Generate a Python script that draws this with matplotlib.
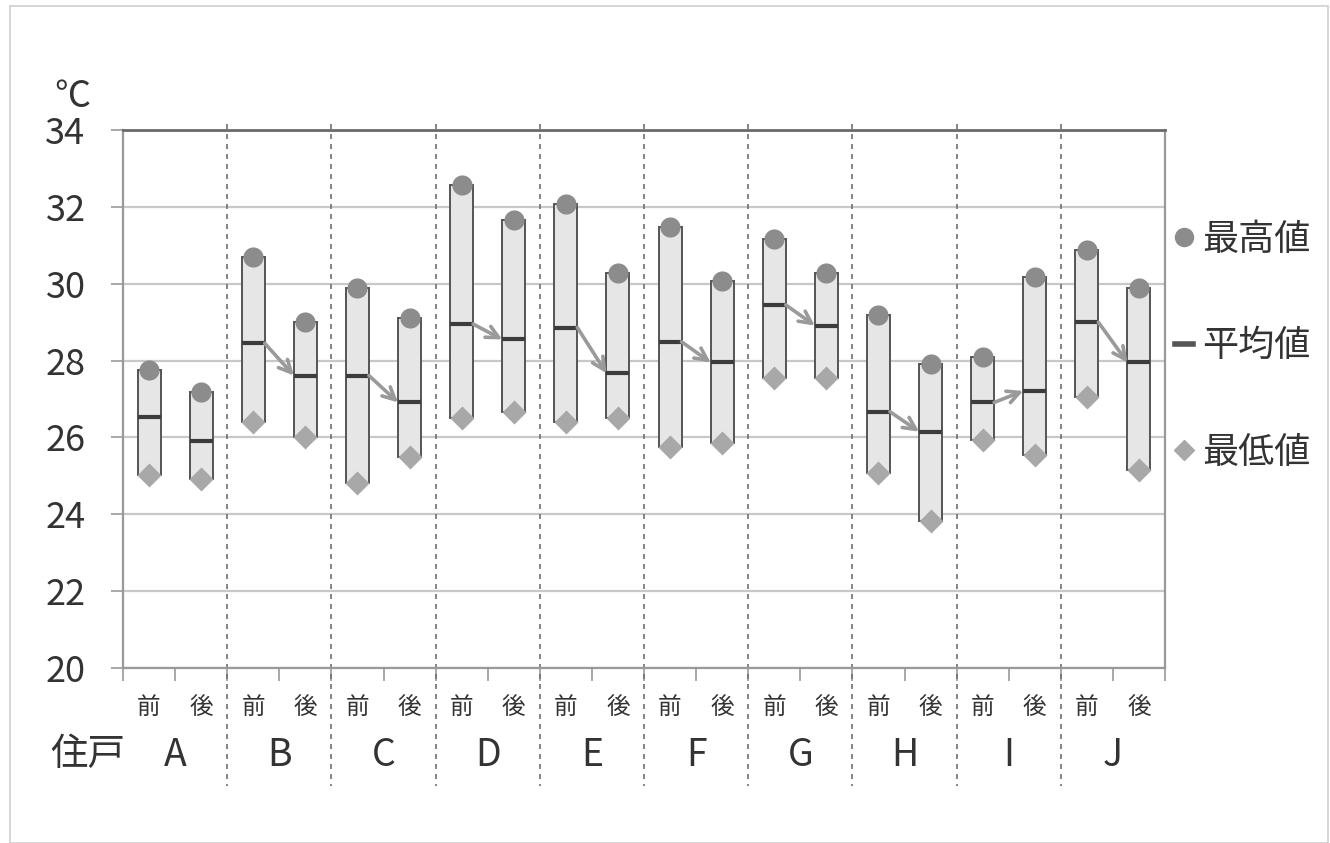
import matplotlib
matplotlib.use("Agg")
import matplotlib.pyplot as plt
from matplotlib.lines import Line2D
from matplotlib.patches import Rectangle

plt.rcParams['font.family'] = ['Noto Sans CJK JP', 'DejaVu Sans']

# Households and before / after labels
households = ['A', 'B', 'C', 'D', 'E', 'F', 'G', 'H', 'I', 'J']
phases = ['前', '後']

# Values per bar (前, 後 for each household in order)
t_max = [27.76, 27.19, 30.69, 29.01, 29.90, 29.10, 32.57, 31.66, 32.07, 30.27,
         31.48, 30.08, 31.16, 30.27, 29.19, 27.91, 28.10, 30.18, 30.88, 29.88]
t_mean = [26.52, 25.91, 28.45, 27.61, 27.61, 26.91, 28.95, 28.55, 28.86, 27.67,
          28.49, 27.95, 29.45, 28.91, 26.67, 26.15, 26.91, 27.21, 29.00, 27.95]
t_min = [25.02, 24.91, 26.41, 26.02, 24.82, 25.50, 26.50, 26.67, 26.41, 26.50,
         25.76, 25.85, 27.54, 27.54, 25.07, 23.83, 25.93, 25.54, 27.06, 25.15]
# whether an arrow links 前 mean to 後 mean
has_arrow = [False, True, True, True, True, True, True, True, True, True]

yticks = [20, 22, 24, 26, 28, 30, 32, 34]

W, H = 1330, 843
fig = plt.figure(figsize=(W / 100, H / 100), dpi=100)
fig.patch.set_facecolor('white')
fig.add_artist(Rectangle((10 / W, 0), 1 - 12 / W, 1 - 6 / H, transform=fig.transFigure,
                         fill=False, edgecolor='#cfcfcf', linewidth=1.2))

ax = fig.add_axes([123 / W, 1 - 668 / H, (1165 - 123) / W, (668 - 130) / H])
n = len(t_max)
x = list(range(n))
bw = 0.44

ax.bar(x, [a - b for a, b in zip(t_max, t_min)], bottom=t_min, width=bw,
       color='#e6e6e6', edgecolor='#555555', linewidth=1.4, zorder=3)
ax.hlines(t_mean, [i - bw / 2 for i in x], [i + bw / 2 for i in x],
          color='#3c3c3c', linewidth=3, zorder=4)
ax.scatter(x, t_max, marker='o', s=210, color='#8c8c8c', zorder=5, linewidths=0)
ax.scatter(x, t_min, marker='D', s=150, color='#a8a8a8', zorder=5, linewidths=0)

for k, flag in enumerate(has_arrow):
    if not flag:
        continue
    i0, i1 = 2 * k, 2 * k + 1
    ax.annotate('', xy=(i1 - bw / 2, t_mean[i1]), xytext=(i0 + bw / 2, t_mean[i0]),
                arrowprops=dict(arrowstyle='->', color='#9a9a9a', lw=2.6,
                                shrinkA=0, shrinkB=0, mutation_scale=22),
                zorder=6)

ax.set_xlim(-0.5, n - 0.5)
ax.set_ylim(20, 34)
ax.set_yticks(yticks)
ax.set_yticklabels([str(v) for v in yticks], fontsize=26, color='#333333')
ax.set_xticks([i - 0.5 for i in range(n + 1)])
ax.set_xticklabels([])
ax.tick_params(axis='y', length=9, width=1.2, color='#999999', pad=18)
ax.tick_params(axis='x', length=9, width=1.2, color='#999999')
ax.yaxis.grid(True, color='#c8c8c8', linewidth=1.6, zorder=0)
ax.set_axisbelow(True)
for side in ['left', 'right', 'bottom']:
    ax.spines[side].set_color('#999999')
    ax.spines[side].set_linewidth(1.6)
ax.spines['top'].set_color('#6a6a6a')
ax.spines['top'].set_linewidth(2)

xt = ax.get_xaxis_transform()
for i in x:
    ax.text(i, -0.074, phases[i % 2], transform=xt, ha='center', va='center',
            fontsize=17, color='#333333')
for k, name in enumerate(households):
    ax.text(2 * k + 0.5, -0.162, name, transform=xt, ha='center', va='center',
            fontsize=27, color='#333333')
    if k > 0:
        ax.plot([2 * k - 0.5, 2 * k - 0.5], [1.012, -0.22], transform=xt,
                color='#707070', linestyle=(0, (3, 3)), linewidth=1.2,
                clip_on=False, zorder=2)

fig.text(88 / W, 1 - 755 / H, '住戸', ha='center', va='center', fontsize=27, color='#333333')
fig.text(72 / W, 1 - 97 / H, '℃', ha='center', va='center', fontsize=26, color='#333333')

handles = [
    Line2D([], [], marker='o', linestyle='none', markersize=13, color='#8c8c8c'),
    Line2D([], [], color='#555555', linewidth=4),
    Line2D([], [], marker='D', linestyle='none', markersize=10, color='#a8a8a8'),
]
leg = ax.legend(handles, ['最高値', '平均値', '最低値'], loc='center left',
                bbox_to_anchor=(1.01, 0.598), frameon=False, fontsize=26,
                handlelength=0.5, handletextpad=0.25, labelspacing=1.95, borderaxespad=0,
                borderpad=0)
for t in leg.get_texts():
    t.set_color('#333333')

fig.savefig('out.png', dpi=100)
